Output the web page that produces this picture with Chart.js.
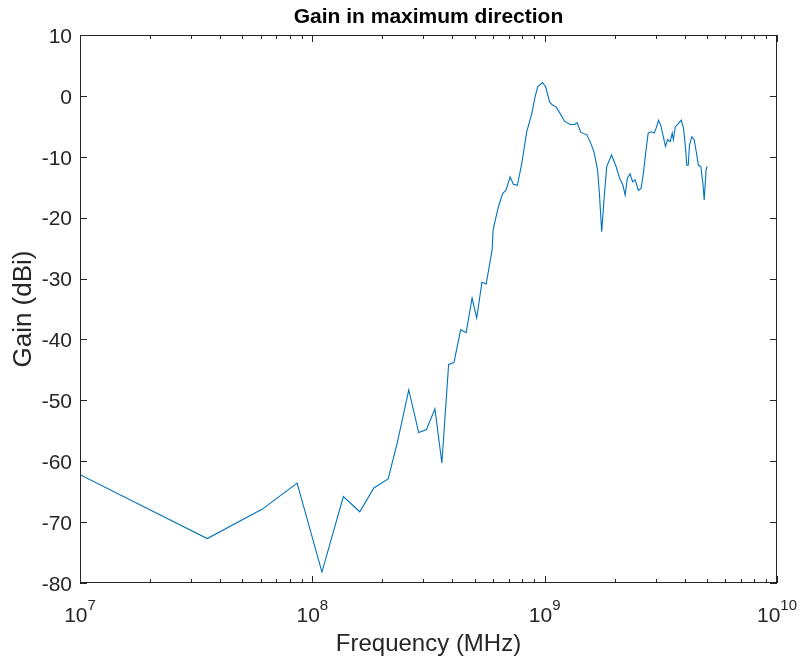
<!DOCTYPE html>
<html>
<head>
<meta charset="utf-8">
<script src="https://cdn.jsdelivr.net/npm/chart.js@4/dist/chart.umd.min.js"></script>
<style>
    body { margin: 0; background: #fff; }
    canvas { display: block; }
</style>
</head>
<body>
<canvas id="gainChart" width="800" height="661"></canvas>
<script>
// Frequency points (Hz on the plot axis) and gain in dBi
const freqs = [
    1e7, 3.53e7, 6.07e7, 8.6e7, 1.1e8, 1.36e8, 1.6e8, 1.84e8, 2.12e8, 2.32e8,
    2.6e8, 2.87e8, 3.1e8, 3.37e8, 3.61e8, 3.86e8, 4.07e8, 4.35e8, 4.59e8, 4.87e8,
    5.1e8, 5.37e8, 5.6e8, 5.94e8, 6.0e8, 6.32e8, 6.6e8, 6.82e8, 7.1e8, 7.33e8,
    7.63e8, 7.97e8, 8.37e8, 8.8e8, 9.1e8, 9.33e8, 9.78e8, 1.01e9, 1.05e9, 1.08e9,
    1.12e9, 1.17e9, 1.22e9, 1.29e9, 1.35e9, 1.38e9, 1.43e9, 1.52e9, 1.58e9, 1.63e9,
    1.69e9, 1.72e9, 1.76e9, 1.8e9, 1.85e9, 1.94e9, 2.03e9, 2.1e9, 2.17e9, 2.22e9,
    2.27e9, 2.33e9, 2.39e9, 2.45e9, 2.53e9, 2.6e9, 2.66e9, 2.73e9, 2.79e9, 2.89e9,
    2.96e9, 3.02e9, 3.09e9, 3.16e9, 3.24e9, 3.31e9, 3.38e9, 3.47e9, 3.54e9, 3.58e9,
    3.65e9, 3.77e9, 3.87e9, 3.96e9, 4.04e9, 4.09e9, 4.15e9, 4.2e9, 4.3e9, 4.4e9,
    4.48e9, 4.59e9, 4.7e9, 4.8e9, 4.86e9, 4.95e9, 5.0e9
];
const gains = [
    -62.2, -72.7, -67.9, -63.6, -78.2, -65.8, -68.3, -64.4, -62.9, -57.0,
    -48.3, -55.3, -54.8, -51.4, -60.3, -44.1, -43.8, -38.4, -38.9, -33.2,
    -36.5, -30.6, -30.9, -25.3, -22.0, -18.2, -16.0, -15.5, -13.3, -14.5,
    -14.7, -11.1, -5.9, -2.9, -0.1, 1.5, 2.2, 1.5, -1.0, -1.5,
    -1.8, -3.0, -4.2, -4.7, -4.7, -4.4, -6.0, -6.4, -7.8, -9.2,
    -12.2, -16.0, -22.3, -17.1, -11.6, -9.7, -11.6, -13.5, -14.6, -16.3,
    -13.5, -12.8, -14.1, -13.8, -15.5, -15.2, -12.7, -8.9, -6.1, -5.9,
    -6.1, -5.3, -4.0, -4.8, -6.7, -8.3, -7.2, -7.5, -6.1, -7.2,
    -5.1, -4.5, -4.0, -5.3, -8.6, -11.4, -11.4, -8.1, -6.7, -7.2,
    -8.9, -11.4, -11.6, -14.4, -17.1, -12.2, -11.6
];

const yTicks = [-80, -70, -60, -50, -40, -30, -20, -10, 0, 10];
const xDecades = [7, 8, 9, 10];

const FONT = '"Liberation Sans", Arial, Helvetica, sans-serif';
const AXIS_COLOR = '#262626';

// MATLAB style box with inward ticks and 10^n labels
const matlabAxes = {
    id: 'matlabAxes',
    afterDraw(chart) {
        const { ctx, chartArea: a, scales: { x, y } } = chart;
        ctx.save();
        ctx.strokeStyle = AXIS_COLOR;
        ctx.lineWidth = 1;
        ctx.strokeRect(Math.round(a.left) + 0.5, Math.round(a.top) + 0.5,
            Math.round(a.width) - 1, Math.round(a.height) - 1);

        ctx.beginPath();
        yTicks.forEach(v => {
            const py = Math.round(y.getPixelForValue(v)) + 0.5;
            ctx.moveTo(a.left, py); ctx.lineTo(a.left + 7, py);
            ctx.moveTo(a.right, py); ctx.lineTo(a.right - 7, py);
        });
        for (let e = xDecades[0]; e <= xDecades[xDecades.length - 1]; e++) {
            for (let m = 1; m <= 9; m++) {
                if (e === xDecades[xDecades.length - 1] && m > 1) break;
                const px = Math.round(x.getPixelForValue(m * Math.pow(10, e))) + 0.5;
                const len = m === 1 ? 7 : 4;
                ctx.moveTo(px, a.bottom); ctx.lineTo(px, a.bottom - len);
                ctx.moveTo(px, a.top); ctx.lineTo(px, a.top + len);
            }
        }
        ctx.stroke();

        // x tick labels as 10 with a raised exponent
        ctx.fillStyle = AXIS_COLOR;
        ctx.textBaseline = 'alphabetic';
        ctx.textAlign = 'left';
        xDecades.forEach(e => {
            const px = x.getPixelForValue(Math.pow(10, e));
            ctx.font = '21px ' + FONT;
            const baseW = ctx.measureText('10').width;
            ctx.font = '15px ' + FONT;
            const expW = ctx.measureText(String(e)).width;
            const start = px - (baseW + expW) / 2;
            ctx.font = '21px ' + FONT;
            ctx.fillText('10', start, a.bottom + 39);
            ctx.font = '15px ' + FONT;
            ctx.fillText(String(e), start + baseW, a.bottom + 27);
        });
        ctx.restore();
    }
};

new Chart(document.getElementById('gainChart'), {
    type: 'line',
    data: {
        datasets: [{
            data: freqs.map((f, i) => ({ x: f, y: gains[i] })),
            borderColor: '#0072BD',
            borderWidth: 1.1,
            pointRadius: 0,
            tension: 0,
            fill: false
        }]
    },
    options: {
        responsive: false,
        animation: false,
        devicePixelRatio: 1,
        layout: { padding: { left: 0, right: 23, top: 0, bottom: 0 } },
        plugins: {
            legend: { display: false },
            tooltip: { enabled: false },
            title: {
                display: true,
                fullSize: false,
                text: 'Gain in maximum direction',
                color: '#000',
                font: { family: FONT, size: 21, weight: 'bold' },
                padding: { top: 5, bottom: 4.8 }
            }
        },
        scales: {
            x: {
                type: 'logarithmic',
                min: 1e7,
                max: 1e10,
                grid: { display: false, drawTicks: false },
                border: { display: false },
                ticks: { display: false },
                title: {
                    display: true,
                    text: 'Frequency (MHz)',
                    color: AXIS_COLOR,
                    font: { family: FONT, size: 24 },
                    padding: { top: 0, bottom: 2 }
                },
                afterFit(scale) { scale.height = 78; }
            },
            y: {
                min: -80,
                max: 10,
                grid: { display: false, drawTicks: false },
                border: { display: false },
                ticks: {
                    stepSize: 10,
                    color: AXIS_COLOR,
                    padding: 8,
                    labelOffset: 2,
                    font: { family: FONT, size: 21 }
                },
                title: {
                    display: true,
                    text: 'Gain (dBi)',
                    color: AXIS_COLOR,
                    font: { family: FONT, size: 26 },
                    padding: { top: 8, bottom: 0 }
                },
                afterFit(scale) { scale.width = 80; }
            }
        }
    },
    plugins: [matlabAxes]
});
</script>
</body>
</html>
